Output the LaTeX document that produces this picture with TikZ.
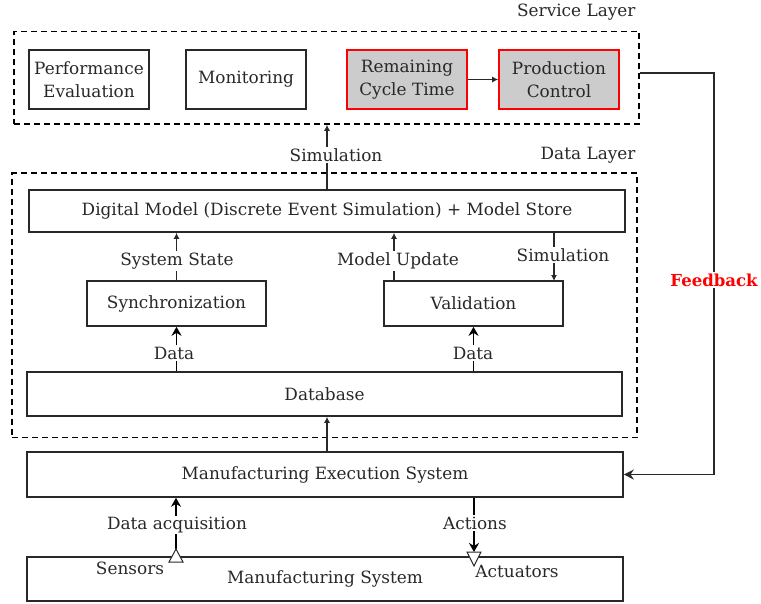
\documentclass[tikz,border=0pt]{standalone}
\usepackage{fontspec}
\setmainfont{DejaVu Serif}
\usetikzlibrary{arrows.meta}
\definecolor{boxgray}{RGB}{204,204,204}
\definecolor{ink}{RGB}{40,40,40}
\begin{document}
\begin{tikzpicture}[x=1pt,y=-1pt,
  every node/.style={font=\fontsize{16.9}{23}\selectfont, text=ink},
  box/.style={draw=ink, line width=1.6pt, align=center, inner sep=0pt},
  hibox/.style={box, draw=red, fill=boxgray},
  layer/.style={draw=black, line width=1.6pt, dash pattern=on 6pt off 4pt, inner sep=0pt},
  arr/.style={-{Latex[length=6pt,width=6pt]}, line width=1.1pt, draw=ink},
  bigarr/.style={-{Stealth[length=9pt,width=10pt]}, line width=1.5pt, draw=black},
  lbl/.style={fill=white, inner sep=1.5pt},
  tri/.style={draw=ink, fill=white, line width=1pt}]
\useasboundingbox (0,0) rectangle (761,603);

% layers
\node[layer, minimum width=625, minimum height=92.5] (sl) at (326.5,77.75) {};
\node[layer, minimum width=625, minimum height=264.5] (dl) at (324.5,305.25) {};
\node[anchor=east] (sllbl) at (639,12) {Service Layer};
\node[anchor=east] (dllbl) at (639,155) {Data Layer};

% service layer boxes
\node[box, minimum width=120, minimum height=59] (pe) at (89,79.5) {Performance\\Evaluation};
\node[box, minimum width=120, minimum height=59] (mon) at (246,79.5) {Monitoring};
\node[hibox, minimum width=120, minimum height=59] (rct) at (407,79.5) {Remaining\\Cycle Time};
\node[hibox, minimum width=120, minimum height=59] (pc) at (559,79.5) {Production\\Control};

% data layer boxes
\node[box, minimum width=596, minimum height=42] (dm) at (327,211) {Digital Model (Discrete Event Simulation) + Model Store};
\node[box, minimum width=179, minimum height=45] (sync) at (176.5,303.5) {Synchronization};
\node[box, minimum width=179, minimum height=45] (val) at (473.5,303.5) {Validation};
\node[box, minimum width=595, minimum height=44] (db) at (324.5,394) {Database};

% lower boxes
\node[box, minimum width=596, minimum height=45] (mes) at (325,474.5) {Manufacturing Execution System};
\node[box, minimum width=596, minimum height=44] (ms) at (325,579) {Manufacturing System};

% connectors in service layer
\draw[arr] (rct.east) -- (pc.west);

% data layer -> service layer
\draw[arr] (mes.north -| dm.north) -- (db.south -| dm.north);
\draw[arr] (dm.north) -- (sl.south -| dm.north);
\node[lbl] (simlbl) at (336,155) {Simulation};

% sync / validation
\draw[arr] (sync.north) -- (sync.north |- dm.south);
\node[lbl] (sslbl) at (177,261) {System State};
\coordinate (mu) at (394,281);
\draw[arr] (mu) -- (mu |- dm.south);
\node[lbl] (mulbl) at (398,261) {Model Update};
\coordinate (sv) at (554,281);
\draw[arr] (sv |- dm.south) -- (sv);
\node[lbl] (svlbl) at (563,255) {Simulation};

% database -> sync / validation
\draw[bigarr] (db.north -| sync.south) -- (sync.south);
\node[lbl] (d1) at (174,353) {Data};
\draw[bigarr] (db.north -| val.south) -- (val.south);
\node[lbl] (d2) at (473,353) {Data};

% sensors / actuators
\coordinate (sens) at (176,549);
\coordinate (act) at (474,566);
\draw[bigarr] (sens) -- (sens |- mes.south);
\node[lbl] (dalbl) at (177,525) {Data acquisition};
\draw[bigarr] (act |- mes.south) -- ([yshift=14pt]act);
\node[lbl] (aclbl) at (475,523) {Actions};
\draw[tri] (sens) -- ++(-7,13) -- ++(14,0) -- cycle;
\draw[tri] (act) -- ++(-7,-14) -- ++(14,0) -- cycle;
\node (senslbl) at (130,568) {Sensors};
\node (actlbl) at (517,571) {Actuators};

% feedback
\draw[-{Stealth[length=10pt,width=10pt]}, line width=1.5pt, draw=ink]
  ([yshift=5pt]sl.east) -- ++(74,0) |- (mes.east);
\node[lbl, text=red, font=\fontsize{16.5}{23}\selectfont\bfseries] (fb) at (714,280) {Feedback};
\end{tikzpicture}
\end{document}
